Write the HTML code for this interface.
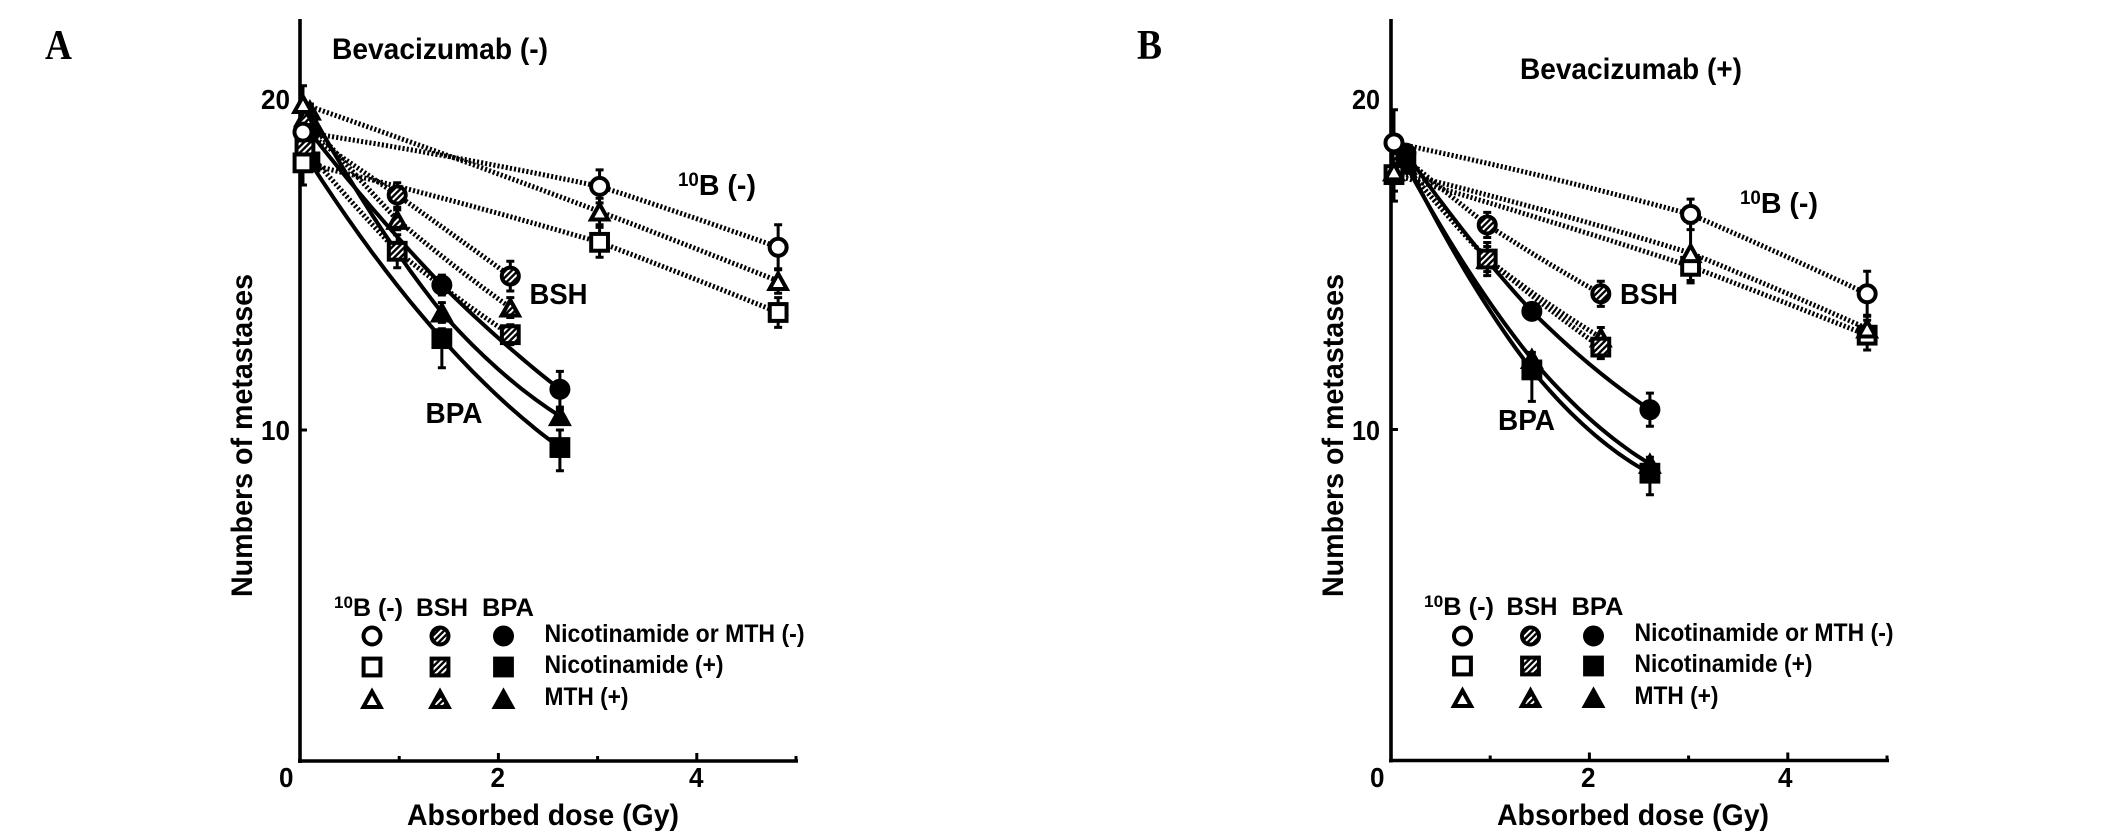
<!DOCTYPE html>
<html lang="en">
<head>
<meta charset="utf-8">
<title>Numbers of metastases vs absorbed dose</title>
<style>
html,body{margin:0;padding:0;background:#fff;}
svg{display:block;}
text{font-family:"Liberation Sans",sans-serif;font-weight:bold;fill:#000;}
.serif{font-family:"Liberation Serif",serif;font-size:42px;}
.anno{font-size:29px;}
.leg{font-size:25px;}
.tick{font-size:28px;}
.title{font-size:30px;}
</style>
</head>
<body>
<svg id="figure" xmlns="http://www.w3.org/2000/svg" width="2126" height="839" viewBox="0 0 2126 839">
  <defs>
    <pattern id="hatch" patternUnits="userSpaceOnUse" width="4.4" height="4.4" patternTransform="rotate(45)">
      <rect width="4.4" height="4.4" fill="#000"/>
      <rect width="2" height="4.4" fill="#fff"/>
    </pattern>
  </defs>
  <rect width="2126" height="839" fill="#fff"/>

  <text class="serif" x="45" y="59" textLength="27" lengthAdjust="spacingAndGlyphs">A</text>
  <text class="serif" x="1137" y="59" textLength="25" lengthAdjust="spacingAndGlyphs">B</text>

  <text class="title" x="332" y="59" textLength="216" lengthAdjust="spacingAndGlyphs">Bevacizumab (-)</text>
  <text class="title" x="1520" y="79" textLength="222" lengthAdjust="spacingAndGlyphs">Bevacizumab (+)</text>

  <g id="panelA"></g>
  <g id="panelB"></g>

  <text class="tick" x="261" y="109" textLength="29" lengthAdjust="spacingAndGlyphs">20</text>
  <text class="tick" x="261" y="440" textLength="29" lengthAdjust="spacingAndGlyphs">10</text>
  <text class="tick" x="279" y="787" textLength="14.5" lengthAdjust="spacingAndGlyphs">0</text>
  <text class="tick" x="490.5" y="787" textLength="14.5" lengthAdjust="spacingAndGlyphs">2</text>
  <text class="tick" x="689" y="787" textLength="14.5" lengthAdjust="spacingAndGlyphs">4</text>

  <text class="tick" x="1352" y="109" textLength="28" lengthAdjust="spacingAndGlyphs">20</text>
  <text class="tick" x="1352" y="440" textLength="28" lengthAdjust="spacingAndGlyphs">10</text>
  <text class="tick" x="1370" y="787" textLength="14.5" lengthAdjust="spacingAndGlyphs">0</text>
  <text class="tick" x="1581" y="787" textLength="14.5" lengthAdjust="spacingAndGlyphs">2</text>
  <text class="tick" x="1778" y="787" textLength="14.5" lengthAdjust="spacingAndGlyphs">4</text>

  <text class="title" x="407" y="825" textLength="272" lengthAdjust="spacingAndGlyphs">Absorbed dose (Gy)</text>
  <text class="title" x="1497" y="825" textLength="272" lengthAdjust="spacingAndGlyphs">Absorbed dose (Gy)</text>
  <text class="title" transform="translate(252,597) rotate(-90)" textLength="323" lengthAdjust="spacingAndGlyphs">Numbers of metastases</text>
  <text class="title" transform="translate(1343,597) rotate(-90)" textLength="323" lengthAdjust="spacingAndGlyphs">Numbers of metastases</text>

  <text class="anno" x="678" y="195" textLength="78" lengthAdjust="spacingAndGlyphs"><tspan font-size="19" dy="-9">10</tspan><tspan dy="9">B (-)</tspan></text>
  <text class="anno" x="529.5" y="304" textLength="58" lengthAdjust="spacingAndGlyphs">BSH</text>
  <text class="anno" x="425.5" y="423" textLength="57" lengthAdjust="spacingAndGlyphs">BPA</text>

  <text class="anno" x="1740" y="213" textLength="78" lengthAdjust="spacingAndGlyphs"><tspan font-size="19" dy="-9">10</tspan><tspan dy="9">B (-)</tspan></text>
  <text class="anno" x="1620" y="304" textLength="58" lengthAdjust="spacingAndGlyphs">BSH</text>
  <text class="anno" x="1498" y="430" textLength="57" lengthAdjust="spacingAndGlyphs">BPA</text>

  <g>
    <text class="leg" x="334" y="616" textLength="69" lengthAdjust="spacingAndGlyphs"><tspan font-size="17" dy="-8">10</tspan><tspan dy="8">B (-)</tspan></text>
    <text class="leg" x="416" y="616" textLength="52" lengthAdjust="spacingAndGlyphs">BSH</text>
    <text class="leg" x="482" y="616" textLength="52" lengthAdjust="spacingAndGlyphs">BPA</text>
    <text class="leg" x="544.5" y="642" textLength="260" lengthAdjust="spacingAndGlyphs">Nicotinamide or MTH (-)</text>
    <text class="leg" x="544.5" y="673" textLength="179" lengthAdjust="spacingAndGlyphs">Nicotinamide (+)</text>
    <text class="leg" x="544.5" y="705" textLength="84" lengthAdjust="spacingAndGlyphs">MTH (+)</text>
    <g id="legendA"></g>
  </g>
  <g>
    <text class="leg" x="1424" y="615" textLength="70" lengthAdjust="spacingAndGlyphs"><tspan font-size="17" dy="-8">10</tspan><tspan dy="8">B (-)</tspan></text>
    <text class="leg" x="1506.5" y="615" textLength="51" lengthAdjust="spacingAndGlyphs">BSH</text>
    <text class="leg" x="1571.5" y="615" textLength="52" lengthAdjust="spacingAndGlyphs">BPA</text>
    <text class="leg" x="1634.5" y="641" textLength="259" lengthAdjust="spacingAndGlyphs">Nicotinamide or MTH (-)</text>
    <text class="leg" x="1634.5" y="672" textLength="178" lengthAdjust="spacingAndGlyphs">Nicotinamide (+)</text>
    <text class="leg" x="1634.5" y="704" textLength="84" lengthAdjust="spacingAndGlyphs">MTH (+)</text>
    <g id="legendB"></g>
  </g>
</svg>
<script>
// Panel A - Bevacizumab (-)
const aDose10B = [0.03, 3.02, 4.82];
const aDoseBSH = [0.05, 0.98, 2.12];
const aDoseBPA = [0.1, 1.43, 2.62];
const a10BCircle = [19.0, 17.36, 15.52];
const a10BCircleErr = [0.5, 0.5, 0.68];
const a10BSquare = [18.07, 15.67, 13.55];
const a10BSquareErr = [0.67, 0.45, 0.45];
const a10BTriangle = [19.85, 16.6, 14.5];
const a10BTriangleErr = [0.55, 0.4, 0.37];
const aBSHCircle = [19.0, 17.1, 14.65];
const aBSHCircleErr = [0.3, 0.37, 0.45];
const aBSHSquare = [18.5, 15.4, 12.88];
const aBSHSquareErr = [0.3, 0.5, 0.3];
const aBSHTriangle = [19.45, 16.35, 13.7];
const aBSHTriangleErr = [0.3, 0.3, 0.3];
const aBPACircle = [19.0, 14.38, 11.23];
const aBPACircleErr = [0.2, 0.3, 0.54];
const aBPASquare = [18.1, 12.76, 9.47];
const aBPASquareErr = [0.2, 0.88, 0.7];
const aBPASquareErrUp = [0.2, 0.3, 0.53];
const aBPATriangle = [19.65, 13.55, 10.42];
const aBPATriangleErr = [0.2, 0.3, 0.2];

// Panel B - Bevacizumab (+)
const bDose10B = [0.03, 3.02, 4.8];
const bDoseBSH = [0.1, 0.97, 2.115];
const bDoseBPA = [0.15, 1.42, 2.61];
const b10BCircle = [18.66, 16.5, 14.1];
const b10BCircleErr = [1.0, 0.46, 0.68];
const b10BSquare = [17.7, 14.93, 12.85];
const b10BSquareErr = [0.8, 0.43, 0.45];
const b10BTriangle = [17.8, 15.33, 13.05];
const b10BTriangleErr = [0.6, 0.9, 0.4];
const bBSHCircle = [18.3, 16.18, 14.1];
const bBSHCircleErr = [0.3, 0.38, 0.38];
const bBSHSquare = [18.1, 15.15, 12.49];
const bBSHSquareErr = [0.3, 0.5, 0.35];
const bBSHTriangle = [18.1, 15.15, 12.78];
const bBSHTriangleErr = [0.3, 0.38, 0.3];
const bBPACircle = [18.35, 13.57, 10.6];
const bBPACircleErr = [0.2, 0.25, 0.5];
const bBPASquare = [18.1, 11.8, 8.68];
const bBPASquareErr = [0.2, 0.95, 0.65];
const bBPASquareErrUp = [0.2, 0.3, 0.3];
const bBPATriangle = [18.0, 12.13, 8.96];
const bBPATriangleErr = [0.2, 0.2, 0.2];

// Axis ticks (Gy / number of metastases)
const xMajorTicks = [2, 4];
const xMinorTicks = [1, 3, 5];
const aYTicks = [10];
const bYTicks = [10];

const NS = 'http://www.w3.org/2000/svg';

function make(parent, tag, attrs) {
  const el = document.createElementNS(NS, tag);
  for (const k in attrs) el.setAttribute(k, attrs[k]);
  parent.appendChild(el);
  return el;
}

function fillOf(kind) {
  return kind === 'open' ? '#fff' : kind === 'hatch' ? 'url(#hatch)' : '#000';
}

function drawMarker(parent, shape, kind, cx, cy) {
  const s = { fill: fillOf(kind), stroke: '#000', 'stroke-width': 4 };
  let el;
  if (shape === 'circle') {
    el = make(parent, 'circle', Object.assign({ cx: cx, cy: cy, r: 8.5 }, s));
  } else if (shape === 'square') {
    el = make(parent, 'rect', Object.assign({ x: cx - 8.4, y: cy - 8.4, width: 16.8, height: 16.8 }, s));
  } else {
    const pts = [[cx, cy - 7.5], [cx + 8.6, cy + 8], [cx - 8.6, cy + 8]].map(p => p.join(',')).join(' ');
    el = make(parent, 'polygon', Object.assign({ points: pts }, s));
  }
  return el;
}

// Quadratic through three measured points
function curveAt(xs, ys, x) {
  let total = 0;
  for (let i = 0; i < 3; i++) {
    let term = ys[i];
    for (let j = 0; j < 3; j++) {
      if (j !== i) term *= (x - xs[j]) / (xs[i] - xs[j]);
    }
    total += term;
  }
  return total;
}

// Straight segments between the three measured points
function chordAt(xs, ys, x) {
  const i = x <= xs[1] ? 0 : 1;
  return ys[i] + (ys[i + 1] - ys[i]) * (x - xs[i]) / (xs[i + 1] - xs[i]);
}

function drawPanel(root, x0, y0, series, yTicks) {
  const sx = v => x0 + v * 99.2;
  const sy = v => y0 - v * 33.1;

  // Fit lines
  series.forEach(s => {
    const pts = [];
    for (let i = 0; i <= 40; i++) {
      const x = s.dose[0] + (s.dose[2] - s.dose[0]) * i / 40;
      const y = s.bend * curveAt(s.dose, s.vals, x) + (1 - s.bend) * chordAt(s.dose, s.vals, x);
      pts.push(sx(x).toFixed(1) + ',' + sy(y).toFixed(1));
    }
    const line = make(root, 'polyline', {
      points: pts.join(' '), fill: 'none', stroke: '#000',
      'stroke-width': s.kind === 'solid' ? 4 : 5,
      'stroke-dasharray': s.kind === 'solid' ? 'none' : '2.1 2.1'
    });
    
    
  });

  // Axes
  const yAxis = make(root, 'line', { x1: x0, x2: x0, y1: 19, y2: y0 + 2, stroke: '#000', 'stroke-width': 3.6 });
  
  
  const xAxis = make(root, 'line', { x1: x0 - 2, x2: sx(5) + 2, y1: y0, y2: y0, stroke: '#000', 'stroke-width': 3.6 });
  
  
  xMajorTicks.forEach(t => {
    const tick = make(root, 'line', { x1: sx(t), x2: sx(t), y1: y0, y2: y0 - 8, stroke: '#000', 'stroke-width': 3 });
    
    
  });
  xMinorTicks.forEach(t => {
    const tick = make(root, 'line', { x1: sx(t), x2: sx(t), y1: y0, y2: y0 - 5, stroke: '#000', 'stroke-width': 3 });
    
    
  });
  yTicks.forEach(t => {
    const tick = make(root, 'line', { x1: x0, x2: x0 + 7, y1: sy(t), y2: sy(t), stroke: '#000', 'stroke-width': 3 });
    
    
  });

  // Error bars and points
  series.forEach(s => {
    s.vals.forEach((v, i) => {
      const px = sx(s.dose[i]);
      const up = s.errUp ? s.errUp[i] : s.err[i];
      const hi = sy(v + up);
      const lo = sy(v - s.err[i]);
      const bar = make(root, 'path', {
        d: 'M' + px + ' ' + hi + 'V' + lo + 'M' + (px - 4) + ' ' + hi + 'H' + (px + 4) + 'M' + (px - 4) + ' ' + lo + 'H' + (px + 4),
        fill: 'none', stroke: '#000', 'stroke-width': 3
      });
      
      
    });
  });
  series.forEach(s => {
    s.vals.forEach((v, i) => {
      const m = drawMarker(root, s.shape, s.fillKind, sx(s.dose[i]), sy(v));
      
      
    });
  });
}

const seriesA = [
  { name: 'bpa-nicotinamide', shape: 'square', fillKind: 'solid', kind: 'solid', bend: 1, dose: aDoseBPA, vals: aBPASquare, err: aBPASquareErr, errUp: aBPASquareErrUp },
  { name: 'bpa-control', shape: 'circle', fillKind: 'solid', kind: 'solid', bend: 0.8, dose: aDoseBPA, vals: aBPACircle, err: aBPACircleErr },
  { name: 'bpa-mth', shape: 'triangle', fillKind: 'solid', kind: 'solid', bend: 0.8, dose: aDoseBPA, vals: aBPATriangle, err: aBPATriangleErr },
  { name: 'bsh-control', shape: 'circle', fillKind: 'hatch', kind: 'dash', bend: 0.35, dose: aDoseBSH, vals: aBSHCircle, err: aBSHCircleErr },
  { name: 'bsh-mth', shape: 'triangle', fillKind: 'hatch', kind: 'dash', bend: 0.35, dose: aDoseBSH, vals: aBSHTriangle, err: aBSHTriangleErr },
  { name: 'bsh-nicotinamide', shape: 'square', fillKind: 'hatch', kind: 'dash', bend: 0.35, dose: aDoseBSH, vals: aBSHSquare, err: aBSHSquareErr },
  { name: '10b-nicotinamide', shape: 'square', fillKind: 'open', kind: 'dash', bend: 0.35, dose: aDose10B, vals: a10BSquare, err: a10BSquareErr },
  { name: '10b-mth', shape: 'triangle', fillKind: 'open', kind: 'dash', bend: 0.8, dose: aDose10B, vals: a10BTriangle, err: a10BTriangleErr },
  { name: '10b-control', shape: 'circle', fillKind: 'open', kind: 'dash', bend: 0.3, dose: aDose10B, vals: a10BCircle, err: a10BCircleErr }
];

const seriesB = [
  { name: 'bsh-control', shape: 'circle', fillKind: 'hatch', kind: 'dash', bend: 0.35, dose: bDoseBSH, vals: bBSHCircle, err: bBSHCircleErr },
  { name: 'bsh-mth', shape: 'triangle', fillKind: 'hatch', kind: 'dash', bend: 0.35, dose: bDoseBSH, vals: bBSHTriangle, err: bBSHTriangleErr },
  { name: 'bsh-nicotinamide', shape: 'square', fillKind: 'hatch', kind: 'dash', bend: 0.35, dose: bDoseBSH, vals: bBSHSquare, err: bBSHSquareErr },
  { name: 'bpa-mth', shape: 'triangle', fillKind: 'solid', kind: 'solid', bend: 0.9, dose: bDoseBPA, vals: bBPATriangle, err: bBPATriangleErr },
  { name: 'bpa-nicotinamide', shape: 'square', fillKind: 'solid', kind: 'solid', bend: 0.9, dose: bDoseBPA, vals: bBPASquare, err: bBPASquareErr, errUp: bBPASquareErrUp },
  { name: 'bpa-control', shape: 'circle', fillKind: 'solid', kind: 'solid', bend: 0.8, dose: bDoseBPA, vals: bBPACircle, err: bBPACircleErr },
  { name: '10b-nicotinamide', shape: 'square', fillKind: 'open', kind: 'dash', bend: 0.35, dose: bDose10B, vals: b10BSquare, err: b10BSquareErr },
  { name: '10b-control', shape: 'circle', fillKind: 'open', kind: 'dash', bend: 0.25, dose: bDose10B, vals: b10BCircle, err: b10BCircleErr },
  { name: '10b-mth', shape: 'triangle', fillKind: 'open', kind: 'dash', bend: 0.35, dose: bDose10B, vals: b10BTriangle, err: b10BTriangleErr }
];

drawPanel(document.getElementById('panelA'), 300, 761, seriesA, aYTicks);
drawPanel(document.getElementById('panelB'), 1391, 760.5, seriesB, bYTicks);

function drawLegend(root, col1, col2, col3, row1, row2, row3) {
  const cols = [[col1, 'open', '10b'], [col2, 'hatch', 'bsh'], [col3, 'solid', 'bpa']];
  cols.forEach(c => {
    const a = drawMarker(root, 'circle', c[1], c[0], row1);
    
    
    const b = drawMarker(root, 'square', c[1], c[0], row2);
    
    
    const d = drawMarker(root, 'triangle', c[1], c[0], row3);
    
    
  });
}
drawLegend(document.getElementById('legendA'), 372, 440, 503.5, 636, 667, 699);
drawLegend(document.getElementById('legendB'), 1462.5, 1530.5, 1593.5, 636, 666, 698);
</script>
</body>
</html>
